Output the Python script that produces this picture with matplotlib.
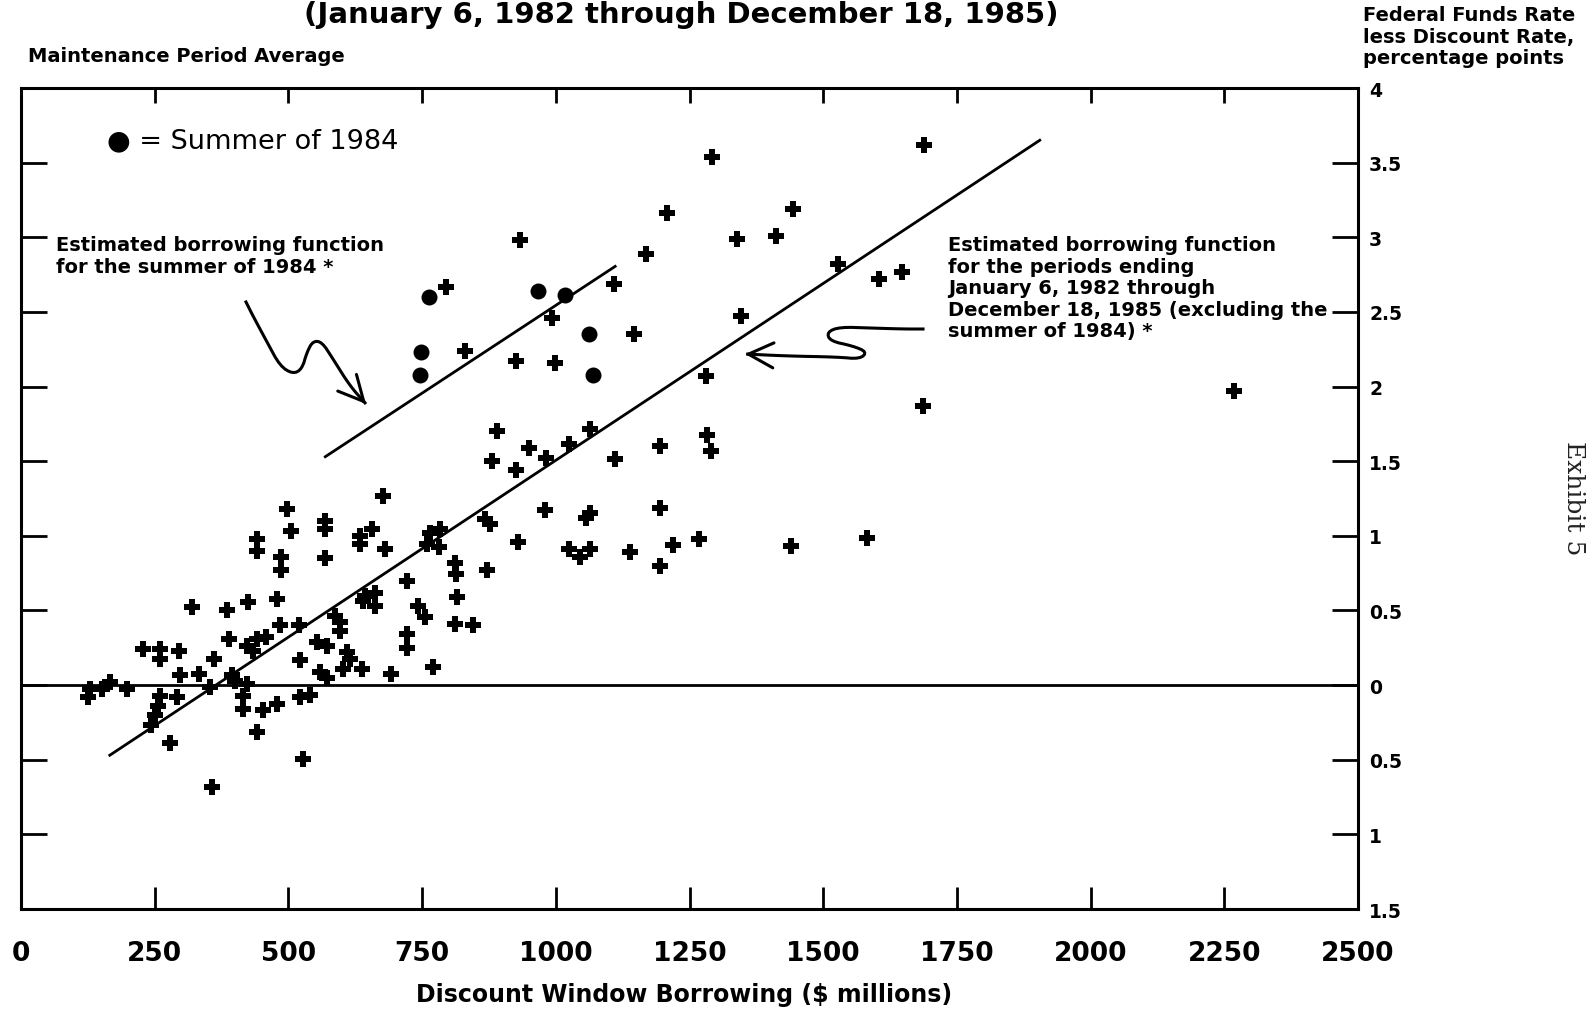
import matplotlib
matplotlib.use("Agg")
import matplotlib.pyplot as plt
from matplotlib.lines import Line2D
import numpy as np

# discount window borrowing ($ millions) vs funds rate less discount rate (pp)
cross_x = [1292, 1689, 1208, 1444, 1338, 933, 1412, 1168, 1528, 1604, 1647, 1108,
           795, 992, 1347, 1146, 830, 925, 999, 1280, 2268, 1686, 890, 1064, 1282,
           949, 1024, 1195, 1291, 880, 926, 982, 1111,
           676, 497, 980, 1064, 1056, 1195, 868, 877, 568, 568, 505, 441, 441,
           634, 656, 634, 681, 765, 784, 759, 781, 930, 1024, 1046, 1064, 1138,
           1220, 1267, 1195, 1440, 1581, 568, 487, 487, 812, 814, 871, 721,
           815, 743, 755, 643, 662, 662, 640, 812, 846, 721, 721, 771, 691,
           320, 386, 424, 478, 484, 520, 587, 597, 597, 229, 260, 260, 296, 388,
           422, 441, 459, 434, 360, 522, 553, 572, 609, 615, 559, 572, 603, 637,
           297, 332, 394, 400, 422, 353, 166, 198, 151, 129, 126, 260, 257, 251,
           244, 291, 416, 416, 453, 478, 522, 540, 441, 279, 528, 357]
cross_y = [3.54, 3.62, 3.16, 3.19, 2.99, 2.98, 3.01, 2.89, 2.82, 2.72, 2.765, 2.69,
           2.665, 2.46, 2.475, 2.35, 2.24, 2.17, 2.16, 2.07, 1.97, 1.87, 1.705, 1.715, 1.675,
           1.59, 1.615, 1.605, 1.565, 1.50, 1.44, 1.52, 1.515,
           1.265, 1.18, 1.17, 1.155, 1.12, 1.185, 1.11, 1.08, 1.10, 1.046, 1.035, 0.98, 0.90,
           1.00, 1.045, 0.945, 0.91, 1.02, 1.045, 0.945, 0.925, 0.96, 0.91, 0.86, 0.91, 0.89,
           0.94, 0.98, 0.80, 0.93, 0.985, 0.85, 0.86, 0.77, 0.82, 0.745, 0.77, 0.70,
           0.59, 0.53, 0.455, 0.60, 0.62, 0.53, 0.56, 0.41, 0.40, 0.34, 0.25, 0.12, 0.075,
           0.52, 0.50, 0.555, 0.58, 0.40, 0.40, 0.465, 0.42, 0.365, 0.24, 0.24, 0.175, 0.23, 0.31,
           0.265, 0.31, 0.32, 0.23, 0.175, 0.165, 0.29, 0.265, 0.22, 0.175, 0.09, 0.045, 0.11, 0.11,
           0.065, 0.075, 0.065, 0.03, 0.01, -0.01, 0.02, -0.025, -0.025, -0.025, -0.08, -0.07, -0.14, -0.20,
           -0.27, -0.08, -0.07, -0.16, -0.17, -0.125, -0.08, -0.065, -0.315, -0.39, -0.495, -0.68]

# summer of 1984 periods
summer_x = [762, 748, 746, 967, 1017, 1063, 1070]
summer_y = [2.60, 2.23, 2.08, 2.64, 2.61, 2.35, 2.08]

# estimated borrowing functions (end points)
all_fit_x = [166, 1905]
all_fit_y = [-0.47, 3.65]
summer_fit_x = [569, 1111]
summer_fit_y = [1.53, 2.805]

x_ticks = [0, 250, 500, 750, 1000, 1250, 1500, 1750, 2000, 2250, 2500]
y_ticks = [-1.5, -1, -0.5, 0, 0.5, 1, 1.5, 2, 2.5, 3, 3.5, 4]
y_tick_labels = ['1.5', '1', '0.5', '0', '0.5', '1', '1.5', '2', '2.5', '3', '3.5', '4']

W, H = 1595, 1012
fig = plt.figure(figsize=(W / 100, H / 100), dpi=100)
fig.patch.set_facecolor('white')
ax = fig.add_axes([21 / W, 1 - 910 / H, 1337 / W, 821 / H])

ax.set_xlim(0, 2500)
ax.set_ylim(-1.5, 4)

# data
ax.plot(cross_x, cross_y, 'P', color='black', markersize=11, markeredgewidth=0)
ax.plot(summer_x, summer_y, 'o', color='black', markersize=11.5, markeredgewidth=0)
ax.plot(all_fit_x, all_fit_y, '-', color='black', linewidth=2.0)
ax.plot(summer_fit_x, summer_fit_y, '-', color='black', linewidth=2.0)
ax.axhline(0, color='black', linewidth=2.0)

# frame and ticks
for s in ax.spines.values():
    s.set_linewidth(2.2)
ax.set_xticks(x_ticks)
ax.set_xticklabels([str(v) for v in x_ticks])
ax.tick_params(axis='x', direction='in', top=True, bottom=True, width=2.0,
               labelsize=19, pad=22)
for t in ax.xaxis.get_major_ticks():
    t.tick1line.set_markersize(16)
    t.tick2line.set_markersize(11)
ax.set_yticks(y_ticks)
ax.set_yticklabels(y_tick_labels)
ax.tick_params(axis='y', direction='in', left=True, right=True, labelleft=False,
               labelright=True, width=2.0, length=19, labelsize=13.5, pad=8)
for lab in ax.get_xticklabels() + ax.get_yticklabels():
    lab.set_fontweight('bold')

# texts
fig.text(681 / W, 1 - 15 / H, '(January 6, 1982 through December 18, 1985)',
         ha='center', va='center', fontsize=21, fontweight='bold')
fig.text(28 / W, 1 - 56 / H, 'Maintenance Period Average',
         ha='left', va='center', fontsize=14, fontweight='bold')
fig.text(1363 / W, 1 - 6 / H, 'Federal Funds Rate\nless Discount Rate,\npercentage points',
         ha='left', va='top', fontsize=14, fontweight='bold', linespacing=1.18)
fig.text(684 / W, 1 - 995 / H, 'Discount Window Borrowing ($ millions)',
         ha='center', va='center', fontsize=17, fontweight='bold')
fig.text(107 / W, 1 - 141 / H, '\u25cf = Summer of 1984',
         ha='left', va='center', fontsize=19.5)
fig.text(56 / W, 1 - 236 / H, 'Estimated borrowing function\nfor the summer of 1984 *',
         ha='left', va='top', fontsize=14, fontweight='bold', linespacing=1.18)
fig.text(948 / W, 1 - 236 / H,
         'Estimated borrowing function\nfor the periods ending\nJanuary 6, 1982 through\n'
         'December 18, 1985 (excluding the\nsummer of 1984) *',
         ha='left', va='top', fontsize=14, fontweight='bold', linespacing=1.17)
fig.text(1562 / W, 1 - 498 / H, 'Exhibit 5', rotation=-90, ha='left', va='center',
         fontsize=18, family='DejaVu Serif', color='#222222')


def smooth(pts, n=2):
    p = np.array(pts, dtype=float)
    for _ in range(n):
        q = [p[0]]
        for a, b in zip(p[:-1], p[1:]):
            q.append(0.75 * a + 0.25 * b)
            q.append(0.25 * a + 0.75 * b)
        q.append(p[-1])
        p = np.array(q)
    return p


def squiggle(pts):
    p = smooth(pts)
    fx = p[:, 0] / W
    fy = 1 - p[:, 1] / H
    fig.add_artist(Line2D(fx[:-1], fy[:-1], color='black', linewidth=2.2,
                          transform=fig.transFigure))
    ax.annotate('', xy=(fx[-1], fy[-1]), xytext=(fx[-3], fy[-3]),
                xycoords='figure fraction', textcoords='figure fraction',
                arrowprops=dict(arrowstyle='->,head_length=0.9,head_width=0.45',
                                color='black', lw=2.2, shrinkA=0, shrinkB=0,
                                mutation_scale=20))


squiggle([(246, 303), (253, 317), (267, 343), (280, 367), (293, 375), (302, 370),
          (307, 353), (313, 342), (322, 343), (333, 360), (350, 387), (366, 405)])
squiggle([(923, 330), (903, 330), (870, 329), (840, 328), (827, 333), (830, 342),
          (853, 347), (867, 353), (860, 360), (837, 358), (787, 357), (745, 355)])

fig.savefig('out.png', dpi=100, facecolor='white')
